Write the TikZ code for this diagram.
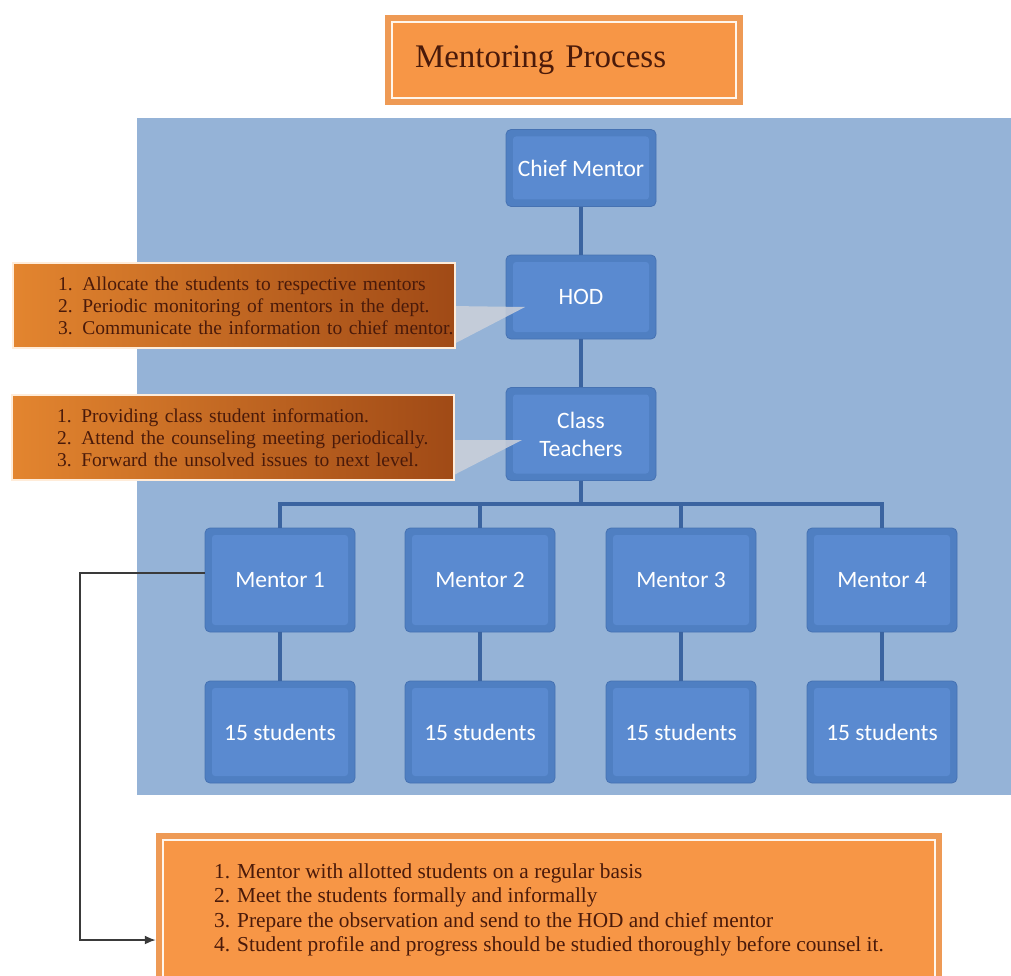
\documentclass[tikz,border=0pt]{standalone}
\usepackage{fontspec}
\setmainfont{Liberation Serif}
\newfontfamily\calfont{Carlito}
\usetikzlibrary{calc,arrows.meta}
\definecolor{bgblue}{HTML}{95B3D7}
\definecolor{faceblue}{HTML}{5A8AD0}
\definecolor{edgeblue}{HTML}{4F7FC2}
\definecolor{darkedge}{HTML}{4672B2}
\definecolor{linkblue}{HTML}{3B64A0}
\definecolor{orangefill}{HTML}{F79646}
\definecolor{orangeband}{HTML}{EE9A55}
\definecolor{calloutlight}{HTML}{E3852F}
\definecolor{calloutdark}{HTML}{A04A16}
\definecolor{browntext}{HTML}{4A1A0A}
\definecolor{wedgegray}{HTML}{CDD1DA}
\definecolor{arrowgray}{HTML}{3A3A3A}
\newcommand{\noteline}[1]{\hspace*{34pt}\mbox{#1}}
\begin{document}
\begin{tikzpicture}[x=1pt,y=-1pt,
  nodebox/.style={rectangle, rounded corners=5, fill=edgeblue, draw=darkedge, line width=0.8,
    minimum width=150, inner sep=0, align=center, text=white,
    font=\calfont\fontsize{23.5}{28}\selectfont,
    path picture={\fill[faceblue, rounded corners=3]
      ($(path picture bounding box.south west)+(7,-7)$) rectangle
      ($(path picture bounding box.north east)+(-7,7)$);}},
  link/.style={draw=linkblue, line width=3.2},
  calloutbox/.style={rectangle, left color=calloutlight, right color=calloutdark,
    draw=white!85!orange, line width=1.2, minimum width=442, minimum height=85,
    inner sep=0, text width=420, align=left, text=browntext, font=\fontsize{19.5}{22}\selectfont},
  framebox/.style={rectangle, fill=orangeband, inner sep=0,
    path picture={\fill[orangefill]
      ($(path picture bounding box.south west)+(7,-7)$) rectangle
      ($(path picture bounding box.north east)+(-7,7)$);
      \draw[white!92!orange, line width=2]
      ($(path picture bounding box.south west)+(7,-7)$) rectangle
      ($(path picture bounding box.north east)+(-7,7)$);}},
  wedge/.style={fill=wedgegray, opacity=0.85}
]
\useasboundingbox (0,0) rectangle (1011,976);
\fill[white] (0,0) rectangle (1011,976);
% background panel
\fill[bgblue] (137,118) rectangle (1011,795);

% title
\node[framebox, minimum width=358, minimum height=90, text width=298, inner xsep=30,
  align=left, text=browntext, font=\fontsize{33}{38}\selectfont] (title) at (564,60) {Mentoring Process};

% hierarchy nodes
\node[nodebox, minimum height=77] (chief) at (581,168) {Chief Mentor};
\node[nodebox, minimum height=84] (hod) at (581,297) {HOD};
\node[nodebox, minimum height=93] (class) at (581,434) {Class\\Teachers};
\foreach \i/\x in {1/280,2/480,3/681,4/882}{
  \node[nodebox, minimum height=104] (m\i) at (\x,580) {Mentor \i};
  \node[nodebox, minimum height=102] (s\i) at (\x,732) {15 students};
}

% connectors
\coordinate (bus) at (581,504);
\draw[link] (chief.south) -- (hod.north);
\draw[link] (hod.south) -- (class.north);
\draw[link] (class.south) -- (bus);
\foreach \i in {1,2,3,4}{
  \draw[link] (bus) -| (m\i.north);
  \draw[link] (m\i.south) -- (s\i.north);
}

% callouts
\fill[wedge] (450,306) -- (525,307) -- (450,346) -- cycle;
\fill[wedge] (448,440) -- (522,440) -- (448,478) -- cycle;
\node[calloutbox] (hodnote) at (234,305.5) {\noteline{1. Allocate the students to respective mentors}\\\noteline{2. Periodic monitoring of mentors in the dept.}\\\noteline{3. Communicate the information to chief mentor.}};
\node[calloutbox] (classnote) at (233,437.5) {\noteline{1. Providing class student information.}\\\noteline{2. Attend the counseling meeting periodically.}\\\noteline{3. Forward the unsolved issues to next level.}};

% bottom box
\node[framebox, minimum width=786, minimum height=154, align=left, text=browntext,
  font=\fontsize{21.3}{24.5}\selectfont] (mentornote) at (549,910)
  {1. Mentor with allotted students on a regular basis\\2. Meet the students formally and informally\\3. Prepare the observation and send to the HOD and chief mentor\\4. Student profile and progress should be studied thoroughly before counsel it.};

% mentor link
\coordinate (c1) at (80,573);
\coordinate (c2) at (80,940);
\draw[arrowgray, line width=1.8pt, -{Latex[length=11pt,width=9pt]}] (m1.west |- c1) -- (c1) -- (c2) -- (mentornote.west |- c2);
\end{tikzpicture}
\end{document}
